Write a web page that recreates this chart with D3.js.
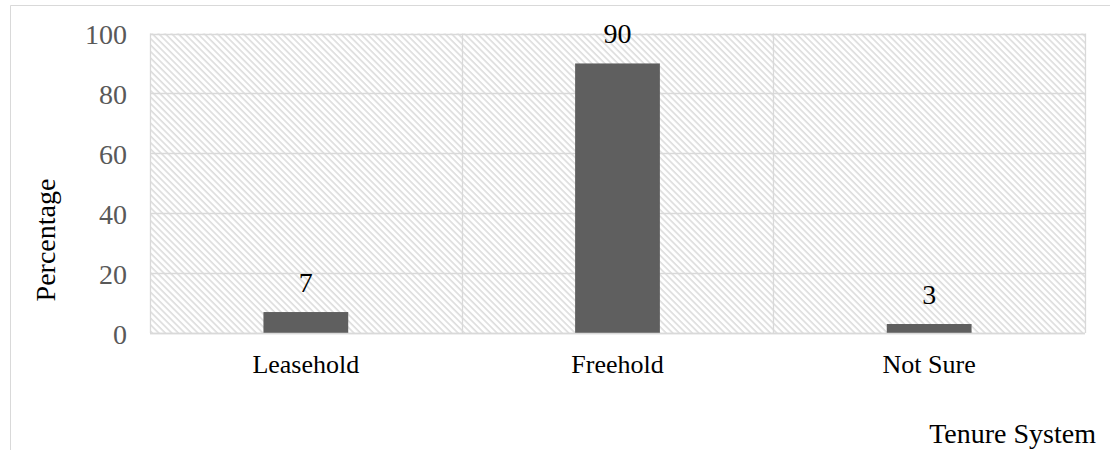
<!DOCTYPE html>
<html>
<head>
<meta charset="utf-8">
<script src="https://cdn.jsdelivr.net/npm/d3@7"></script>
<style>
  html, body { margin: 0; padding: 0; background: #fff; }
  svg { display: block; }
</style>
</head>
<body>
<svg id="chart" width="1110" height="450"></svg>
<script>
const categories = ["Leasehold", "Freehold", "Not Sure"];
const values = [7, 90, 3];
const yTicks = [0, 20, 40, 60, 80, 100];
const yTitle = "Percentage";
const xTitle = "Tenure System";

const svg = d3.select("#chart");
const plot = { left: 150, top: 33.5, right: 1085, bottom: 333 };

// outer frame (top & left lines visible)
svg.append("path")
  .attr("d", `M10.5,450 L10.5,5.5 L1110,5.5`)
  .attr("fill", "none").attr("stroke", "#d9d9d9").attr("stroke-width", 1);

// hatch pattern
const defs = svg.append("defs");
const pat = defs.append("pattern")
  .attr("id", "hatch").attr("patternUnits", "userSpaceOnUse")
  .attr("width", 4.6).attr("height", 4.6)
  .attr("patternTransform", "rotate(-45)");
pat.append("rect").attr("width", 4.6).attr("height", 4.6).attr("fill", "#ffffff");
pat.append("line").attr("x1", 1).attr("y1", 0).attr("x2", 1).attr("y2", 4.6)
  .attr("stroke", "#dadada").attr("stroke-width", 1.5);

const x = d3.scaleBand().domain(categories).range([plot.left, plot.right]).paddingInner(0).paddingOuter(0);
const y = d3.scaleLinear().domain([0, 100]).range([plot.bottom, plot.top]);

// plot background
svg.append("rect")
  .attr("x", plot.left).attr("y", plot.top)
  .attr("width", plot.right - plot.left).attr("height", plot.bottom - plot.top)
  .attr("fill", "url(#hatch)");

// horizontal gridlines
svg.append("g").selectAll("line").data(yTicks).join("line")
  .attr("x1", plot.left).attr("x2", plot.right)
  .attr("y1", d => Math.round(y(d)) + 0.5).attr("y2", d => Math.round(y(d)) + 0.5)
  .attr("stroke", "#d9d9d9").attr("stroke-width", 1.3);

// vertical gridlines at category boundaries (incl. edges)
const bounds = categories.map(c => x(c)).concat([x(categories[categories.length - 1]) + x.bandwidth()]);
svg.append("g").selectAll("line").data(bounds).join("line")
  .attr("x1", d => Math.round(d) + 0.5).attr("x2", d => Math.round(d) + 0.5)
  .attr("y1", plot.top).attr("y2", plot.bottom)
  .attr("stroke", "#d9d9d9").attr("stroke-width", 1.3);

// bars
const bw = x.bandwidth() * 0.272;
svg.append("g").selectAll("rect").data(values).join("rect")
  .attr("x", (d, i) => x(categories[i]) + x.bandwidth() / 2 - bw / 2)
  .attr("y", d => y(d))
  .attr("width", bw)
  .attr("height", d => y(0) - y(d))
  .attr("fill", "#5f5f5f");

// baseline redraw over bars
svg.append("line")
  .attr("x1", plot.left).attr("x2", plot.right)
  .attr("y1", Math.round(y(0)) + 0.5).attr("y2", Math.round(y(0)) + 0.5)
  .attr("stroke", "#d9d9d9").attr("stroke-width", 1.3);

const serif = "'Liberation Serif', 'Times New Roman', serif";

// data labels
svg.append("g").selectAll("text").data(values).join("text")
  .attr("x", (d, i) => x(categories[i]) + x.bandwidth() / 2)
  .attr("y", d => y(d) - 20)
  .attr("text-anchor", "middle")
  .attr("font-family", serif).attr("font-size", 28).attr("fill", "#000")
  .text(d => d);

// y axis tick labels
svg.append("g").selectAll("text").data(yTicks).join("text")
  .attr("x", 127)
  .attr("y", d => y(d) + 10.5)
  .attr("text-anchor", "end")
  .attr("font-family", serif).attr("font-size", 28).attr("fill", "#595959")
  .text(d => d);

// category labels
svg.append("g").selectAll("text").data(categories).join("text")
  .attr("x", d => x(d) + x.bandwidth() / 2)
  .attr("y", 373)
  .attr("text-anchor", "middle")
  .attr("font-family", serif).attr("font-size", 26).attr("fill", "#000")
  .text(d => d);

// y title
svg.append("text")
  .attr("transform", `translate(55,240) rotate(-90)`)
  .attr("text-anchor", "middle")
  .attr("font-family", serif).attr("font-size", 28).attr("fill", "#000")
  .text(yTitle);

// x title
svg.append("text")
  .attr("x", 1096).attr("y", 443)
  .attr("text-anchor", "end")
  .attr("font-family", serif).attr("font-size", 28).attr("fill", "#000")
  .text(xTitle);
</script>
</body>
</html>
